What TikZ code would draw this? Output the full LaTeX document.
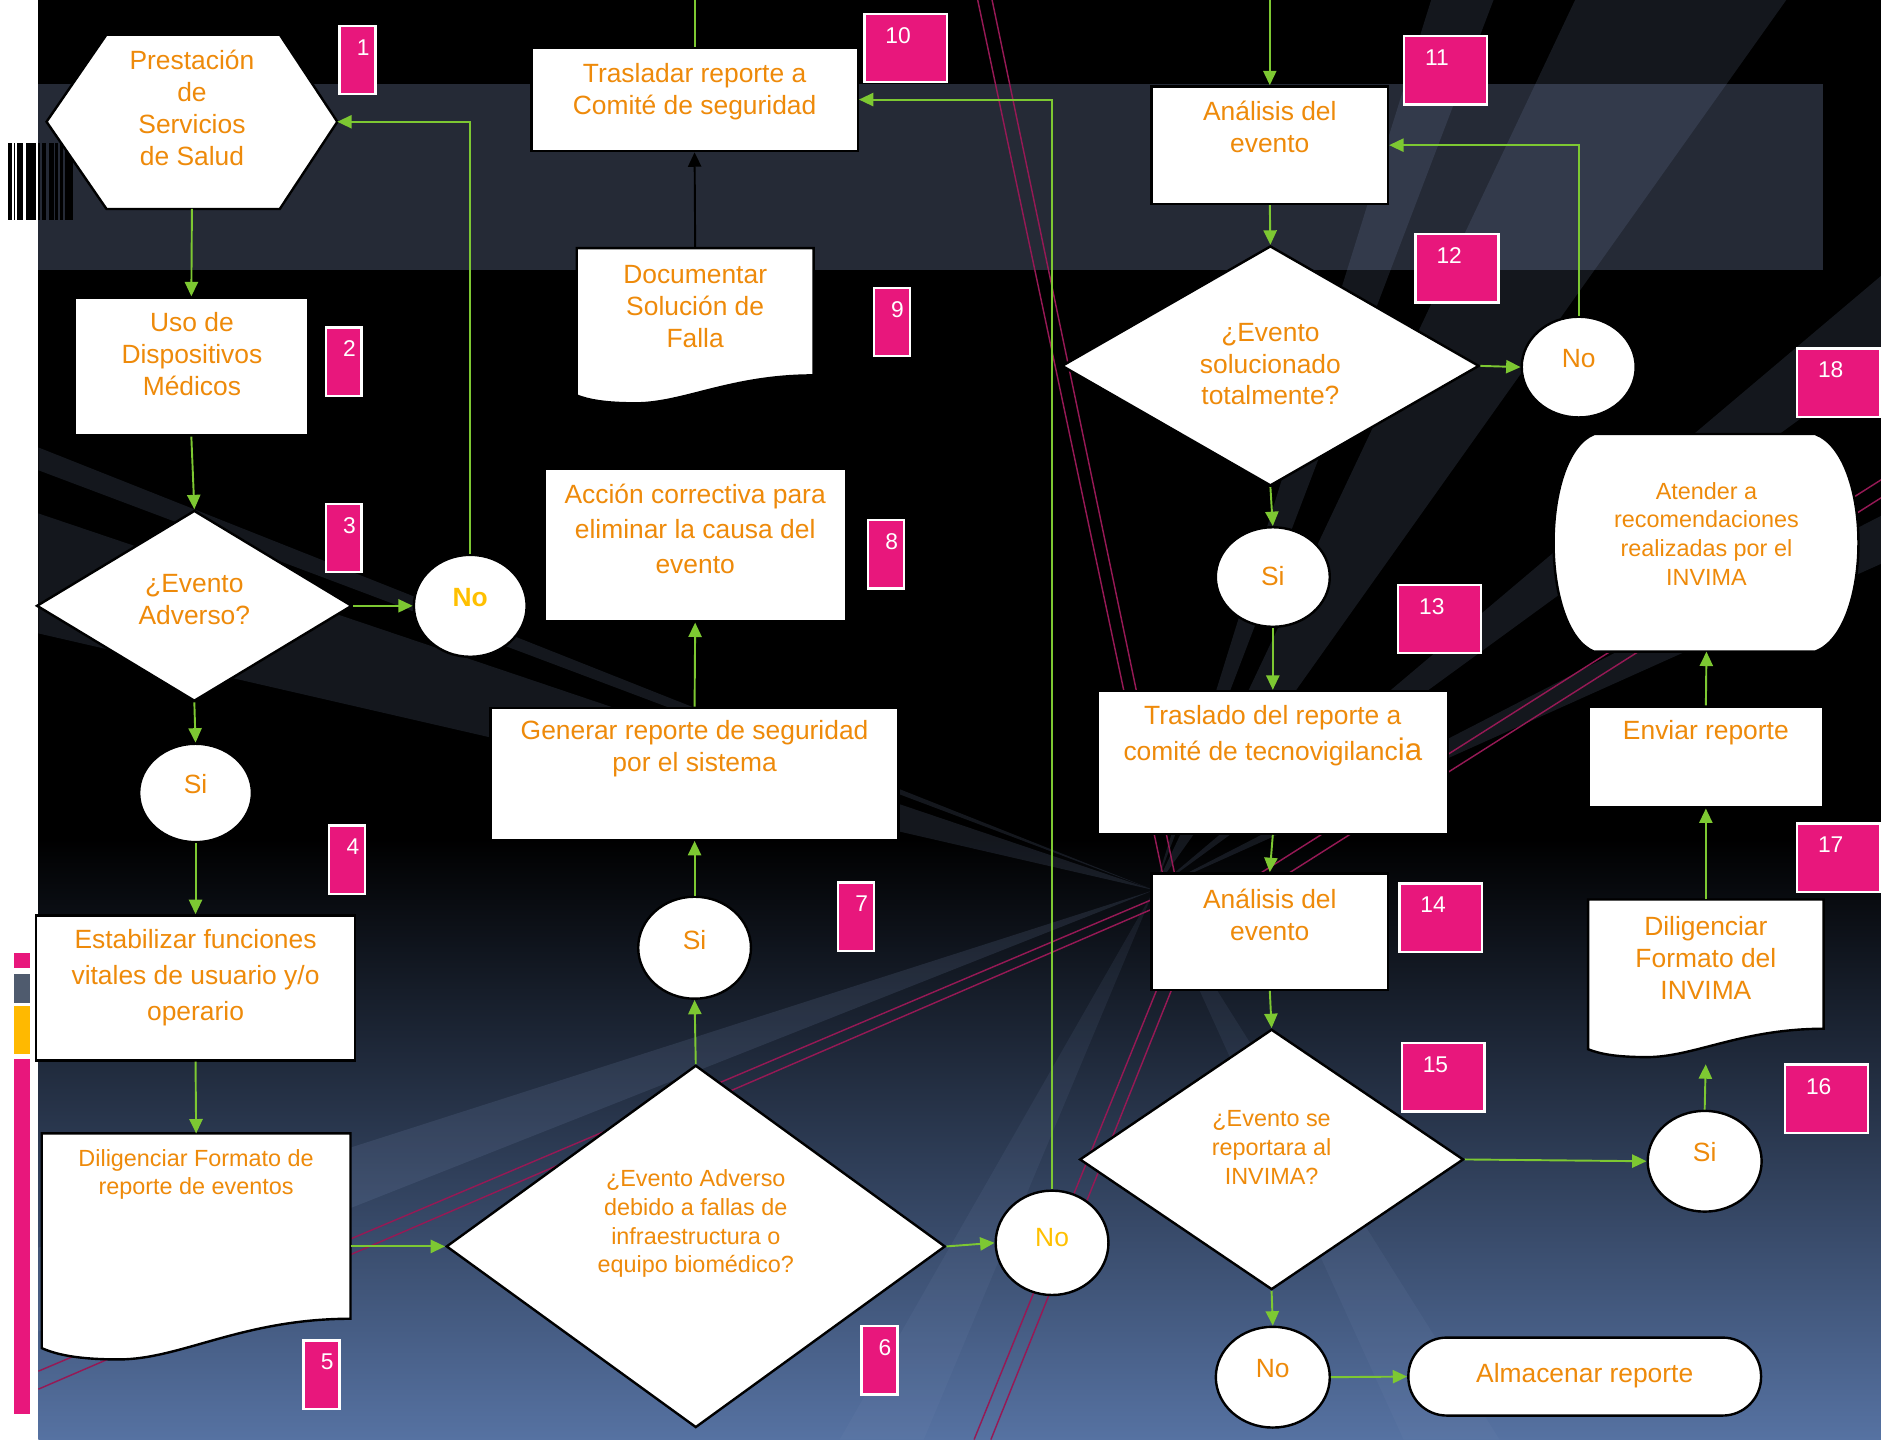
\documentclass[tikz,border=0pt]{standalone}
\usepackage{fontspec}
\setmainfont{Liberation Sans}
\usetikzlibrary{shapes.geometric, arrows.meta, calc}
\definecolor{txtorange}{HTML}{EE8A0A}
\definecolor{noamber}{HTML}{FFC000}
\definecolor{flowgreen}{RGB}{125,200,50}
\definecolor{tagpink}{HTML}{E8177C}
\definecolor{bandgray}{HTML}{252A36}
\definecolor{bgblue}{HTML}{5672A2}
\definecolor{raygray}{RGB}{125,145,185}
\definecolor{linemag}{RGB}{150,25,85}
\definecolor{bargray}{HTML}{4F5B6E}
\definecolor{baryellow}{HTML}{FFB900}
\tikzset{%
    shp/.style={draw=black, fill=white, line width=2pt},
    txt/.style={text=txtorange, align=center, inner sep=0pt, font=\fontsize{22}{26.5}\selectfont},
    small/.style={font=\fontsize{19.5}{24}\selectfont}
}
\newcommand{\docwave}[1]{%
    \draw[shp] let \p1=(#1.north west), \p2=(#1.south east),
        \n1={(\x2)-(\x1)}, \n2={(\y1)-(\y2)} in
        (\x1,\y1) -- (\x2,\y1) -- (\x2,{\y2+0.18*\n2})
        .. controls ({\x2-0.35*\n1},{\y2+0.18*\n2}) and ({\x1+0.45*\n1},\y2) .. ({\x1+0.25*\n1},\y2)
        .. controls ({\x1+0.12*\n1},\y2) and ({\x1+0.05*\n1},{\y2+0.02*\n2}) .. (\x1,{\y2+0.05*\n2}) -- cycle;}

\begin{document}
\begin{tikzpicture}[x=1pt, y=-1pt,
        box/.style={shp, rectangle, inner sep=0pt},
        dmd/.style={shp, diamond, inner sep=0pt},
        oval/.style={shp, ellipse, inner sep=0pt},
        frame/.style={rectangle, inner sep=0pt},
        numbox/.style={rectangle, fill=tagpink, draw=white, line width=2pt, minimum height=57pt,
            inner sep=0pt, text=white, font=\fontsize{19}{22}\selectfont, text height=14pt, text depth=22pt},
        narrow/.style={numbox, minimum width=30pt, text width=20pt, align=right},
        wide/.style={numbox, minimum width=69pt, text width=34pt, align=left},
        link/.style={draw=flowgreen, line width=1.6pt},
        flow/.style={link, -{Triangle[length=12pt,width=11pt]}},
        ray/.style={fill=raygray, opacity=0.16},
        mag/.style={draw=linemag, line width=1.2pt}
        ]
        \useasboundingbox (0,0) rectangle (1568,1200);

        % background
        \fill[white] (0,0) rectangle (1568,1200);
        \fill[black] (32,0) rectangle (1568,700);
        \shade[top color=black, bottom color=bgblue] (32,699) rectangle (1568,1200);
        \fill[bandgray] (32,70) rectangle (1520,225);
        \coordinate (apex) at (962,742);
        \fill[ray] (apex) -- (32,373) -- (32,392) -- cycle;
        \fill[ray] (apex) -- (32,428) -- (32,528) -- cycle;
        \fill[ray] (apex) -- (1193,0) -- (1245,0) -- cycle;
        \fill[ray] (apex) -- (1313,0) -- (1489,0) -- cycle;
        \fill[ray] (apex) -- (1568,230) -- (1568,300) -- cycle;
        \fill[ray] (apex) -- (1568,430) -- (1568,470) -- cycle;
        \fill[ray, opacity=0.1] (apex) -- (700,1200) -- (770,1200) -- cycle;
        \fill[ray, opacity=0.1] (apex) -- (1170,1200) -- (1250,1200) -- cycle;
        \fill[ray] (apex) -- (32,1040) -- (32,1110) -- cycle;
        \draw[mag] (815,0) -- (972,742);
        \draw[mag] (827,0) -- (982,742);
        \draw[mag] (998,742) -- (812,1200);
        \draw[mag] (1010,742) -- (826,1200);
        \draw[mag] (960,750) -- (32,1143);
        \draw[mag] (960,758) -- (32,1158);
        \draw[mag] (1000,760) -- (1568,400);
        \draw[mag] (1000,775) -- (1568,415);
        \fill[black] (6.4,119) rectangle (9.6,183);
        \fill[black] (11.5,119) rectangle (12.8,183);
        \fill[black] (14,119) rectangle (19,183);
        \fill[black] (21.7,119) rectangle (30.3,183);
        \fill[black] (31.9,119) rectangle (33.5,183);
        \fill[black] (35,119) rectangle (38,183);
        \fill[black] (40.8,119) rectangle (44.6,183);
        \fill[black] (46,119) rectangle (48,183);
        \fill[black] (50,119) rectangle (52.6,183);
        \fill[black] (54,119) rectangle (61,183);
        \fill[tagpink] (12,794) rectangle (25,807);
        \fill[bargray] (12,812) rectangle (25,836);
        \fill[baryellow] (12,839) rectangle (25,879);
        \fill[tagpink] (12,883) rectangle (25,1179);

        % left column
        \node[frame, minimum width=242pt, minimum height=145pt] (hex) at (160,101.5) {};
        \draw[shp] (hex.west) -- ([xshift=50pt]hex.north west) -- ([xshift=-48pt]hex.north east)
            -- (hex.east) -- ([xshift=-48pt]hex.south east) -- ([xshift=50pt]hex.south west) -- cycle;
        \node[txt] (hex-t) at (160,90) {Prestación\\de\\Servicios\\de Salud};
        \node[box, minimum width=195pt, minimum height=115pt] (uso) at (159.5,305.5) {};
        \node[txt] (uso-t) at (160,295) {Uso de\\Dispositivos\\Médicos};
        \node[dmd, minimum width=263pt, minimum height=159pt] (adv) at (162,505) {};
        \node[txt] (adv-t) at (162,500) {¿Evento\\Adverso?};
        \node[oval, minimum width=94pt, minimum height=85pt] (no3) at (392,505) {};
        \node[txt, text=noamber, font=\fontsize{22}{26.5}\selectfont\bfseries] (no3-t) at (392,498) {No};
        \node[oval, minimum width=94pt, minimum height=82pt] (si3) at (163,661) {};
        \node[txt] (si3-t) at (163,654) {Si};
        \node[box, minimum width=266pt, minimum height=121pt] (estab) at (163,823.5) {};
        \node[txt, font=\fontsize{22}{30}\selectfont] (estab-t) at (163,815) {Estabilizar funciones\\vitales de usuario y/o\\operario};
        \node[frame, minimum width=257pt, minimum height=188pt] (dilig) at (163.5,1039) {};
        \docwave{dilig}
        \node[txt, small] (dilig-t) at (163.5,979) {Diligenciar Formato de\\reporte de eventos};

        % middle column
        \node[dmd, minimum width=416pt, minimum height=302pt] (infra) at (580,1039) {};
        \node[txt, small] (infra-t) at (580,1020) {¿Evento Adverso\\debido a fallas de\\infraestructura o\\equipo biomédico?};
        \node[oval, minimum width=94pt, minimum height=87pt] (no6) at (877,1036) {};
        \node[txt, text=noamber] (no6-t) at (877,1032) {No};
        \node[oval, minimum width=94pt, minimum height=85pt] (si7) at (579,790) {};
        \node[txt] (si7-t) at (579,784) {Si};
        \node[box, minimum width=340pt, minimum height=110pt] (gen) at (579,645) {};
        \node[txt] (gen-t) at (579,624) {Generar reporte de seguridad\\por el sistema};
        \node[box, minimum width=251pt, minimum height=127pt] (acc) at (579.5,454.5) {};
        \node[txt, font=\fontsize{22}{29}\selectfont] (acc-t) at (579.5,441) {Acción correctiva para\\eliminar la causa del\\evento};
        \node[frame, minimum width=197pt, minimum height=129pt] (docu) at (579.5,271.5) {};
        \docwave{docu}
        \node[txt] (docu-t) at (579.5,255.5) {Documentar\\Solución de\\Falla};
        \node[box, minimum width=272pt, minimum height=86pt] (tras) at (579,83) {};
        \node[txt] (tras-t) at (579,76.5) {Trasladar reporte a\\Comité de seguridad};

        % right columns
        \node[box, minimum width=197pt, minimum height=98pt] (ana1) at (1058.5,121) {};
        \node[txt] (ana1-t) at (1058.5,106) {Análisis del\\evento};
        \node[dmd, minimum width=348pt, minimum height=200pt] (sol) at (1059,305) {};
        \node[txt] (sol-t) at (1059,303.5) {¿Evento\\solucionado\\totalmente?};
        \node[oval, minimum width=95pt, minimum height=84pt] (no12) at (1316,306) {};
        \node[txt] (no12-t) at (1316,299) {No};
        \node[oval, minimum width=95pt, minimum height=83pt] (si12) at (1061,481) {};
        \node[txt] (si12-t) at (1061,480) {Si};
        \node[box, minimum width=292pt, minimum height=119pt] (tvig) at (1061,635.5) {};
        \node[txt, font=\fontsize{22}{30}\selectfont] (tvig-t) at (1061,613) {Traslado del reporte a\\comité de tecnovigilanc{\fontsize{26}{30}\selectfont ia}};
        \node[box, minimum width=197pt, minimum height=97pt] (ana2) at (1058.5,776.5) {};
        \node[txt] (ana2-t) at (1058.5,762.5) {Análisis del\\evento};
        \node[dmd, minimum width=320pt, minimum height=217pt] (inv) at (1060,966.5) {};
        \node[txt, small] (inv-t) at (1060,956.5) {¿Evento se\\reportara al\\INVIMA?};
        \node[oval, minimum width=95pt, minimum height=84pt] (no15) at (1061,1148) {};
        \node[txt] (no15-t) at (1061,1141) {No};
        \node[box, rounded corners=32pt, minimum width=294pt, minimum height=65pt] (alm) at (1321,1147.5) {};
        \node[txt] (alm-t) at (1321,1147) {Almacenar reporte};
        \node[oval, minimum width=95pt, minimum height=84pt] (si15) at (1421,968) {};
        \node[txt] (si15-t) at (1421,960) {Si};
        \node[frame, minimum width=196pt, minimum height=131pt] (dinv) at (1422,815.5) {};
        \docwave{dinv}
        \node[txt] (dinv-t) at (1422,798.5) {Diligenciar\\Formato del\\INVIMA};
        \node[box, minimum width=196pt, minimum height=84pt] (env) at (1422,631) {};
        \node[txt] (env-t) at (1422,611) {Enviar reporte};
        \node[frame, minimum width=255pt, minimum height=181pt] (atd) at (1422.5,452.5) {};
        \draw[shp] ([xshift=34pt]atd.north west) -- ([xshift=-37pt]atd.north east)
            .. controls ([xshift=11pt,yshift=-18pt]atd.north east) and ([xshift=11pt,yshift=18pt]atd.south east) .. ([xshift=-37pt]atd.south east)
            -- ([xshift=34pt]atd.south west)
            .. controls ([xshift=-11pt,yshift=18pt]atd.south west) and ([xshift=-11pt,yshift=-18pt]atd.north west) .. ([xshift=34pt]atd.north west) -- cycle;
        \node[txt, small] (atd-t) at (1422.5,445) {Atender a\\recomendaciones\\realizadas por el\\INVIMA};

        % connectors
        \coordinate (outL) at (579,0);
        \coordinate (inR) at (1058.5,0);
        \draw[flow] (hex.south) -- (uso.north);
        \draw[flow] (uso.south) -- (adv.north);
        \draw[flow] (adv.east) -- (no3.west);
        \draw[flow] (no3.north) |- (hex.east);
        \draw[flow] (adv.south) -- (si3.north);
        \draw[flow] (si3.south) -- (estab.north);
        \draw[flow] (estab.south) -- (dilig.north);
        \draw[flow] (dilig.east) -- (infra.west);
        \draw[flow] (infra.east) -- (no6.west);
        \draw[flow] (infra.north) -- (si7.south);
        \draw[flow] (si7.north) -- (gen.south);
        \draw[flow] (gen.north) -- (acc.south);
        \draw[line width=1.6pt, -{Triangle[length=12pt,width=11pt]}] (docu.north) -- (tras.south);
        \draw[flow] (no6.north) |- (tras.east);
        \draw[link] (tras.north) -- (outL);
        \draw[flow] (inR) -- (ana1.north);
        \draw[flow] (ana1.south) -- (sol.north);
        \draw[flow] (sol.east) -- (no12.west);
        \draw[flow] (no12.north) |- (ana1.east);
        \draw[flow] (sol.south) -- (si12.north);
        \draw[flow] (si12.south) -- (tvig.north);
        \draw[flow] (tvig.south) -- (ana2.north);
        \draw[flow] (ana2.south) -- (inv.north);
        \draw[flow] (inv.east) -- (si15.west);
        \draw[flow] (inv.south) -- (no15.north);
        \draw[flow] (no15.east) -- (alm.west);
        \draw[flow, shorten >=6pt] (si15.north) -- (dinv.south);
        \draw[flow] (dinv.north) -- (env.south);
        \draw[flow] (env.north) -- (atd.south);

        % step numbers
        \node[narrow] (n1) at (298,50) {1};
        \node[narrow] (n2) at (286.5,301.5) {2};
        \node[narrow] (n3) at (286.5,448.5) {3};
        \node[narrow] (n4) at (289.5,716.5) {4};
        \node[narrow] (n5) at (268,1146) {5};
        \node[narrow] (n6) at (733,1134) {6};
        \node[narrow] (n7) at (713.5,764) {7};
        \node[narrow] (n8) at (738.5,462) {8};
        \node[narrow] (n9) at (743.5,268.5) {9};
        \node[wide] (n10) at (755,40) {10};
        \node[wide] (n11) at (1205,58.5) {11};
        \node[wide] (n12) at (1214.5,223.5) {12};
        \node[wide] (n13) at (1200,516) {13};
        \node[wide] (n14) at (1201,765) {14};
        \node[wide] (n15) at (1203,898) {15};
        \node[wide] (n16) at (1522.5,916) {16};
        \node[wide] (n17) at (1532.5,715) {17};
        \node[wide] (n18) at (1532.5,319) {18};
    \end{tikzpicture}
\end{document}
